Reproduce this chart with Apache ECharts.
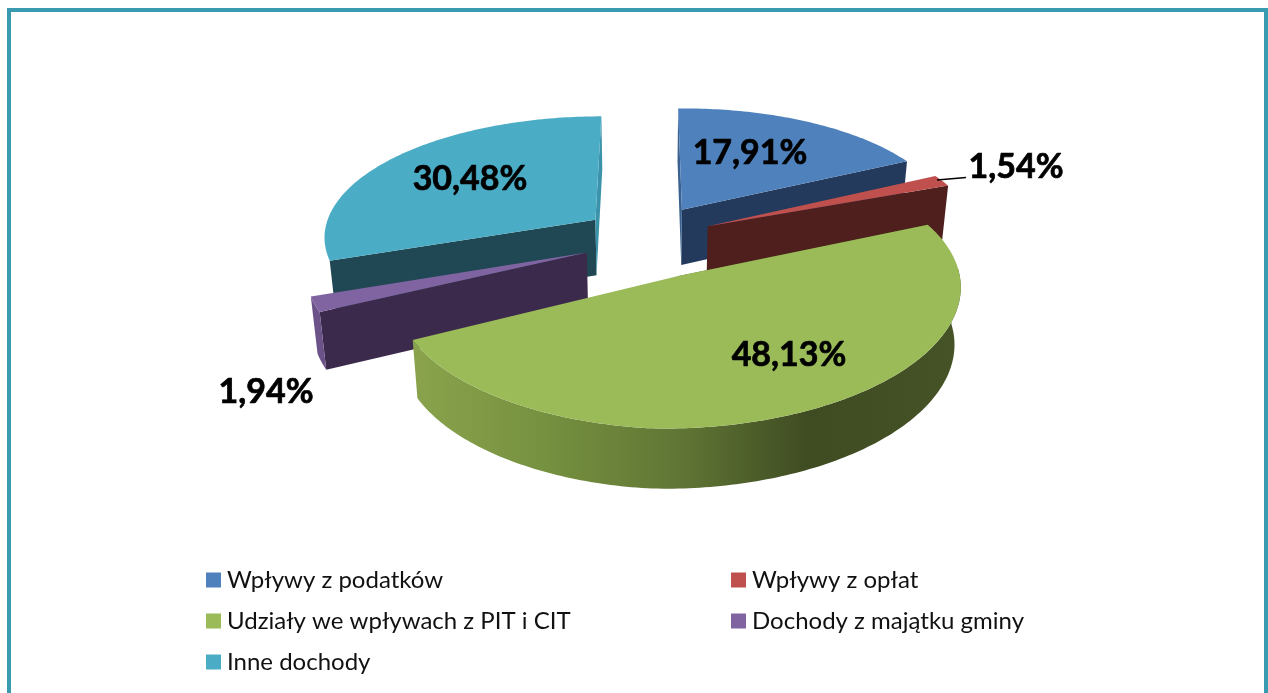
<!DOCTYPE html>
<html>
<head>
<meta charset="UTF-8">
<title>Dochody</title>
<script src="https://cdn.jsdelivr.net/npm/echarts@6/dist/echarts.min.js"></script>
<style>
html, body { margin: 0; padding: 0; background: #fff; }
#chart { width: 1268px; height: 693px; }
</style>
</head>
<body>
<div id="chart"></div>
<script>
var categories = ['Wpływy z podatków', 'Wpływy z opłat', 'Udziały we wpływach z PIT i CIT', 'Dochody z majątku gminy', 'Inne dochody'];
var values = [17.91, 1.54, 48.13, 1.94, 30.48];
var valueLabels = ['17,91%', '1,54%', '48,13%', '1,94%', '30,48%'];

var topColors = ['#4f81bd', '#c0504d', '#9bbb59', '#8064a2', '#4bacc6'];
var wallColors = ['#233a5c', '#4f1f1d', '#4c5f2a', '#3c2a4c', '#1f4754'];
var edgeColors = ['#3a618f', '#96403d', '#7a9645', '#6b5389', '#3b93ab'];
// kolejnosc rysowania: od tylu do przodu
var drawOrder = [0, 4, 1, 3, 2];

// projekcja dysku
var CX = 648, CY = 241, RX = 274, RY = 122, PERSP = 0.13, DEPTH = 56;
var EXPL_X = 0.24, EXPL_Y = 0.31, TAPER = 0.02;
// drobne poprawki dla poszczegolnych wycinkow
var sliceSkew = [2, 2, 9, 2, 2];
var sliceWidth = [1, 1, 0.985, 1, 1];
var sliceShiftX = [0, 0, 0.008, 0, 0];
var sliceShiftY = [0, 0, 0, -0.03, 0];

var total = values.reduce(function (a, b) { return a + b; }, 0);
var angles = [];
var acc = 0;
values.forEach(function (v) {
    angles.push([acc / total * Math.PI * 2, (acc + v) / total * Math.PI * 2]);
    acc += v;
});

function project(i, x, y, z) {
    var p = 1 / (1 - PERSP * y);
    return [
        CX + RX * x * p * (1 - TAPER * z),
        CY + RY * y * p + DEPTH * z * Math.pow(p, 0.4) - sliceSkew[i] * Math.max(x, 0)
    ];
}

function rim(i, t, r) {
    var mid = (angles[i][0] + angles[i][1]) / 2;
    return {
        x: EXPL_X * Math.sin(mid) + sliceShiftX[i] + r * sliceWidth[i] * Math.sin(t),
        y: -EXPL_Y * Math.cos(mid) + sliceShiftY[i] - r * Math.cos(t)
    };
}

function poly(points, fill) {
    return { type: 'polygon', shape: { points: points }, style: { fill: fill } };
}

var sideGradient = new echarts.graphic.LinearGradient(412, 0, 961, 0, [
    { offset: 0, color: '#8aa34c' },
    { offset: 0.25, color: '#75903f' },
    { offset: 0.5, color: '#5f7434' },
    { offset: 0.72, color: '#3f4c22' },
    { offset: 1, color: '#465327' }
], true);

function sliceShapes(i) {
    var a0 = angles[i][0], a1 = angles[i][1];
    var apex = rim(i, a0, 0);
    var steps = Math.max(4, Math.ceil((a1 - a0) * 60));
    var topPts = [project(i, apex.x, apex.y, 0)];
    var arc = [];
    for (var s = 0; s <= steps; s++) {
        var t = a0 + (a1 - a0) * s / steps;
        var c = rim(i, t, 1);
        arc.push(c);
        topPts.push(project(i, c.x, c.y, 0));
    }
    var first = arc[0], last = arc[arc.length - 1];
    var wall = function (e) {
        return [project(i, apex.x, apex.y, 0), project(i, apex.x, apex.y, 1), project(i, e.x, e.y, 1), project(i, e.x, e.y, 0)];
    };
    var shapes = [];
    // sciany radialne; blizsza ciemna, boczna jasniejsza
    if (i === 0) {
        shapes.push(poly(wall(last), wallColors[i]));
        shapes.push(poly(wall(first), edgeColors[i]));
    } else if (i === 4) {
        shapes.push(poly(wall(first), wallColors[i]));
        shapes.push(poly(wall(last), edgeColors[i]));
    } else {
        shapes.push(poly(wall(i === 1 ? last : first), wallColors[i]));
    }
    // sciana zewnetrzna widoczna tylko dla zielonego i fioletowego
    if (i === 2 || i === 3) {
        var front = arc.filter(function (c, k) {
            return Math.cos(a0 + (a1 - a0) * k / steps) < 0;
        });
        var side = front.map(function (c) { return project(i, c.x, c.y, 0); });
        for (var k = front.length - 1; k >= 0; k--) {
            side.push(project(i, front[k].x, front[k].y, 1));
        }
        shapes.push(poly(side, i === 2 ? sideGradient : edgeColors[i]));
    }
    shapes.push(poly(topPts, topColors[i]));
    return shapes;
}

var labelFont = {
    fontFamily: 'Lato', fontWeight: 'bold', fontSize: 34, fill: '#000',
    stroke: '#000', lineWidth: 0.7, align: 'center', verticalAlign: 'middle'
};
// srodki etykiet
var labelAnchors = [[750, 153], [1016, 167], [789, 355], [266, 392], [470, 179]];

function renderLabels(params, api) {
    var children = labelAnchors.map(function (pos, i) {
        return {
            type: 'text',
            style: Object.assign({ text: valueLabels[i], x: pos[0], y: pos[1] }, labelFont)
        };
    });
    // linia odniesienia do etykiety 1,54%
    children.push({
        type: 'line',
        shape: { x1: 937, y1: 180, x2: 966, y2: 177.5 },
        style: { stroke: '#000', lineWidth: 1.6 }
    });
    return { type: 'group', children: children };
}

var series = drawOrder.map(function (i, n) {
    return {
        name: categories[i],
        type: 'custom',
        coordinateSystem: 'none',
        z: 2 + n,
        silent: true,
        itemStyle: { color: topColors[i] },
        data: [values[i]],
        renderItem: function () {
            return { type: 'group', children: sliceShapes(i) };
        }
    };
});
series.push({
    name: 'etykiety',
    type: 'custom',
    coordinateSystem: 'none',
    z: 20,
    silent: true,
    data: [0],
    renderItem: renderLabels
});

function legendFor(idx, left, top) {
    return {
        orient: 'vertical',
        left: left,
        top: top,
        itemWidth: 15,
        itemHeight: 15,
        itemGap: 17,
        selectedMode: false,
        textStyle: { fontFamily: 'Lato', fontSize: 24, color: '#111', padding: [0, 0, 0, 1] },
        data: idx.map(function (i) {
            return { name: categories[i], icon: 'rect', itemStyle: { color: topColors[i] } };
        })
    };
}

var chart = echarts.init(document.getElementById('chart'));
chart.setOption({
    animation: false,
    backgroundColor: '#fff',
    legend: [legendFor([0, 2, 4], 201, 563), legendFor([1, 3], 726, 563)],
    graphic: [
        { type: 'rect', z: 100, shape: { x: 7, y: 8, width: 4, height: 685 }, style: { fill: '#3a9ab0' } },
        { type: 'rect', z: 100, shape: { x: 7, y: 8, width: 1261, height: 4 }, style: { fill: '#3a9ab0' } },
        { type: 'rect', z: 100, shape: { x: 1264, y: 8, width: 4, height: 685 }, style: { fill: '#3a9ab0' } }
    ],
    series: series
});
</script>
</body>
</html>
